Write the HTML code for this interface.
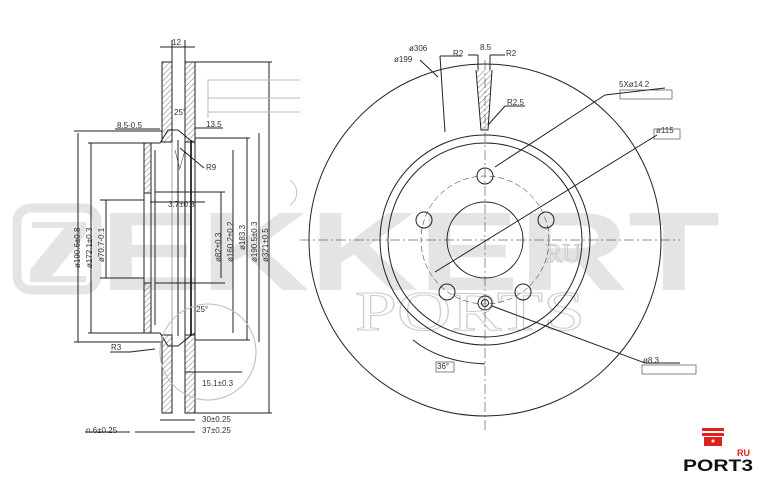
<!DOCTYPE html>
<html><head><meta charset="utf-8"><style>
html,body{margin:0;padding:0;background:#fff;width:766px;height:490px;overflow:hidden}
svg{display:block}
text{font-family:"Liberation Sans",sans-serif;}
</style></head><body>
<svg width="766" height="490" viewBox="0 0 766 490" xmlns="http://www.w3.org/2000/svg">
<defs>
<pattern id="h" width="4" height="4" patternUnits="userSpaceOnUse" patternTransform="rotate(45)">
<line x1="0" y1="0" x2="0" y2="4" stroke="#555" stroke-width="0.8"/></pattern>
</defs>
<g fill="#e4e4e4">
<rect x="17" y="208" width="80" height="82" rx="14" fill="none" stroke="#e4e4e4" stroke-width="9"/>
<polygon points="32,222 86,222 86,234 52,276 86,276 86,282 30,282 30,270 64,228 32,228"/>
<text x="100" y="290" font-size="112" font-weight="bold" textLength="620" lengthAdjust="spacingAndGlyphs" fill="#e4e4e4">EKKERT</text>
</g>
<text x="355" y="330" font-size="56" fill="none" stroke="#ccc" stroke-width="1" textLength="230" lengthAdjust="spacingAndGlyphs" style="font-family:'Liberation Serif',serif">PORTS</text>
<text x="545" y="262" font-size="26" fill="none" stroke="#ccc" style="font-family:'Liberation Serif',serif">RU</text>

<g stroke="#222" fill="none" stroke-width="1">
<circle cx="485" cy="240" r="176"/>
<circle cx="485" cy="240" r="105"/>
<circle cx="485" cy="240" r="97"/>
<circle cx="485" cy="240" r="38"/>
<circle cx="485" cy="240" r="64" stroke-dasharray="6,3" stroke-width="0.5"/>
<circle cx="485" cy="176" r="8"/>
<circle cx="546" cy="220" r="8"/>
<circle cx="424" cy="220" r="8"/>
<circle cx="523" cy="292" r="8"/>
<circle cx="447" cy="292" r="8"/>
<circle cx="485" cy="303" r="7"/><circle cx="485" cy="303" r="3.5"/>
<line x1="300" y1="240" x2="680" y2="240" stroke-dasharray="10,3,2,3" stroke-width="0.5"/>
<line x1="485" y1="60" x2="485" y2="430" stroke-dasharray="10,3,2,3" stroke-width="0.5"/>
<path d="M476 70 L481 130 L488 130 L492 70" fill="url(#h)"/>
<line x1="440" y1="56" x2="445" y2="132"/>
<line x1="420" y1="60" x2="438" y2="77"/>
<line x1="440" y1="56" x2="462" y2="56"/>
<line x1="478" y1="55" x2="478" y2="70"/><line x1="490" y1="55" x2="490" y2="70"/>
<line x1="468" y1="55" x2="478" y2="55"/><line x1="490" y1="55" x2="505" y2="55"/>
<line x1="488" y1="125" x2="505" y2="106"/><line x1="505" y1="106" x2="525" y2="106"/>
<line x1="495" y1="167" x2="605" y2="95"/><line x1="605" y1="95" x2="665" y2="88"/>
<line x1="435" y1="272" x2="657" y2="135"/>
<line x1="492" y1="306" x2="645" y2="363"/><line x1="645" y1="363" x2="680" y2="363"/>
<path d="M413 340 Q440 362 485 364"/>
<rect x="162" y="62" width="10" height="80" fill="url(#h)"/>
<rect x="185" y="62" width="10" height="80" fill="url(#h)"/>
<rect x="162" y="335" width="10" height="78" fill="url(#h)"/>
<rect x="185" y="335" width="10" height="78" fill="url(#h)"/>
<rect x="144" y="143" width="7" height="50" fill="url(#h)"/>
<rect x="144" y="283" width="7" height="50" fill="url(#h)"/>
<path d="M144 143 L160 143 L168 130 L178 130 L190 140 L195 143"/>
<path d="M144 333 L160 333 L168 346 L178 346 L190 336 L195 333"/>
<line x1="144" y1="143" x2="144" y2="333"/>
<line x1="151" y1="143" x2="151" y2="333"/>
<line x1="155" y1="150" x2="155" y2="325"/>
<line x1="178" y1="140" x2="178" y2="336"/>
<line x1="185" y1="140" x2="185" y2="336"/>
<line x1="191" y1="140" x2="191" y2="336" stroke-width="1.8"/>
<line x1="195" y1="62" x2="195" y2="413"/>
<line x1="162" y1="62" x2="162" y2="140"/><line x1="162" y1="336" x2="162" y2="413"/>
<line x1="172" y1="62" x2="172" y2="413" stroke-width="0.4"/>
<line x1="185" y1="62" x2="185" y2="413" stroke-width="0.4"/>
<line x1="78" y1="133" x2="78" y2="342"/><line x1="91" y1="143" x2="91" y2="333"/>
<line x1="106" y1="200" x2="106" y2="278"/><line x1="221" y1="192" x2="221" y2="278"/>
<line x1="233" y1="150" x2="233" y2="333"/><line x1="247" y1="138" x2="247" y2="340"/>
<line x1="259" y1="133" x2="259" y2="342"/><line x1="269" y1="62" x2="269" y2="413"/>
<line x1="74" y1="131" x2="162" y2="131"/><line x1="74" y1="342" x2="162" y2="342"/>
<line x1="88" y1="143" x2="144" y2="143"/><line x1="88" y1="333" x2="144" y2="333"/>
<line x1="100" y1="200" x2="144" y2="200"/><line x1="100" y1="278" x2="144" y2="278"/>
<line x1="155" y1="192" x2="225" y2="192"/><line x1="155" y1="283" x2="225" y2="283"/>
<line x1="195" y1="62" x2="272" y2="62"/><line x1="195" y1="413" x2="272" y2="413"/>
<line x1="195" y1="138" x2="250" y2="138"/><line x1="195" y1="340" x2="250" y2="340"/>
<line x1="160" y1="420" x2="195" y2="420"/><line x1="150" y1="432" x2="195" y2="432"/>
<line x1="135" y1="432" x2="150" y2="432"/><line x1="85" y1="432" x2="130" y2="432"/>
<line x1="160" y1="47" x2="195" y2="47"/><line x1="172" y1="40" x2="172" y2="62"/><line x1="185" y1="40" x2="185" y2="62"/>
<line x1="115" y1="129" x2="160" y2="129"/><line x1="195" y1="128" x2="223" y2="128"/>
<line x1="150" y1="202" x2="205" y2="202"/>
<line x1="185" y1="372" x2="242" y2="372"/>
<line x1="130" y1="352" x2="155" y2="349"/><line x1="110" y1="352" x2="130" y2="352"/>
<line x1="180" y1="148" x2="204" y2="168"/>
<circle cx="208" cy="352" r="48" stroke="#bbb"/>
<path d="M290 180 A15 15 0 0 1 290 205" stroke="#bbb"/>
<path d="M208 118 L208 80 L300 80 M208 98 L300 98 M208 112 L300 112" stroke="#bbb"/>
<path d="M180 168 L185 150 M180 170 L175 150" stroke-width="0.5"/>
</g>
<g font-size="8" fill="#333">
<text x="172" y="45">12</text>
<text x="117" y="128">8.5-0.5</text>
<text x="206" y="127">13.5</text>
<text x="174" y="115">25°</text>
<text x="206" y="170">R9</text>
<text x="168" y="207">3.7±0.3</text>
<text x="196" y="312">25°</text>
<text x="111" y="350">R3</text>
<text x="202" y="386">15.1±0.3</text>
<text x="202" y="422">30±0.25</text>
<text x="202" y="433">37±0.25</text>
<text x="86" y="433">n.6±0.25</text>
<text transform="translate(80,268) rotate(-90)">ø190.6±0.8</text>
<text transform="translate(92,268) rotate(-90)">ø172.1±0.3</text>
<text transform="translate(104,262) rotate(-90)">ø70.7-0.1</text>
<text transform="translate(221,262) rotate(-90)">ø82±0.3</text>
<text transform="translate(233,262) rotate(-90)">ø160.2±0.2</text>
<text transform="translate(245,250) rotate(-90)">ø183.3</text>
<text transform="translate(257,262) rotate(-90)">ø190.5±0.3</text>
<text transform="translate(268,262) rotate(-90)">ø321±0.5</text>
<text x="409" y="51">ø306</text>
<text x="394" y="62">ø199</text>
<text x="453" y="56">R2</text>
<text x="480" y="50">8.5</text>
<text x="506" y="56">R2</text>
<text x="507" y="105">R2.5</text>
<text x="619" y="87">5Xø14.2</text>
<text x="656" y="133">ø115</text>
<text x="643" y="363">ø8.3</text>
<text x="437" y="369">36°</text>
</g>
<g stroke="#333" fill="none" stroke-width="0.6">
<rect x="620" y="90" width="52" height="9"/><rect x="654" y="129" width="26" height="10"/>
<rect x="642" y="365" width="54" height="9"/><rect x="436" y="362" width="18" height="10"/>
</g>
<g fill="#e0201b">
<rect x="702" y="428" width="22" height="3"/><rect x="702" y="433" width="22" height="3"/>
<rect x="704" y="437" width="18" height="9"/>
<text x="737" y="456" font-size="9" font-weight="bold">RU</text>
</g>
<circle cx="713" cy="441" r="1.5" fill="#fff"/>
<text x="683" y="471" font-size="17" font-weight="bold" fill="#111" textLength="70" lengthAdjust="spacingAndGlyphs">PORT3</text>
</svg>
</body></html>
